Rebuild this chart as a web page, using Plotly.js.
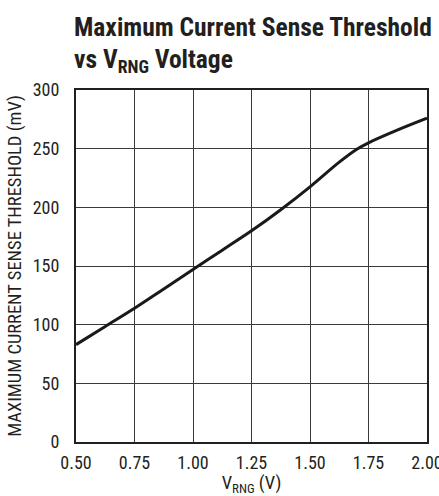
<!DOCTYPE html>
<html>
<head>
<meta charset="utf-8">
<script src="https://cdn.plot.ly/plotly-3.0.1.min.js"></script>
<style>html,body{margin:0;padding:0;background:#fff;}#chart{width:439px;height:496px;}</style>
</head>
<body>
<div id="chart"></div>
<script>
const vrng = [0.50, 0.625, 0.75, 0.875, 1.00, 1.125, 1.25, 1.375, 1.50, 1.625, 1.70, 1.75, 1.875, 2.00];
const threshold = [83, 98.5, 114, 130.5, 147, 163.5, 180, 198, 217.5, 238.5, 249.5, 255, 266, 276];
const xTicks = [0.5, 0.75, 1.0, 1.25, 1.5, 1.75, 2.0];
const xTickText = ["0.50", "0.75", "1.00", "1.25", "1.50", "1.75", "2.00"];
const yTicks = [0, 50, 100, 150, 200, 250, 300];
const titleLines = ["Maximum Current Sense Threshold", "vs V<sub>RNG</sub> Voltage"];

const font = "'Roboto Condensed', 'Liberation Sans Narrow', 'Liberation Sans', Arial, sans-serif";
const ink = '#231f20';

Plotly.newPlot('chart', [{
  x: vrng, y: threshold, type: 'scatter', mode: 'lines',
  line: {color: '#1a1a1a', width: 3, shape: 'spline', smoothing: 1},
  hoverinfo: 'skip'
}], {
  width: 439, height: 496,
  margin: {l: 76, r: 12, t: 90, b: 54},
  paper_bgcolor: '#fff', plot_bgcolor: '#fff',
  showlegend: false,
  annotations: [
    {text: '<b>' + titleLines[0] + '</b>', xref: 'paper', yref: 'paper', x: -0.012, y: 1.18,
     xanchor: 'left', yanchor: 'middle', showarrow: false, font: {family: font, size: 25.5, color: ink}},
    {text: '<b>' + titleLines[1] + '</b>', xref: 'paper', yref: 'paper', x: -0.012, y: 1.085,
     xanchor: 'left', yanchor: 'middle', showarrow: false, font: {family: font, size: 25.5, color: ink}}
  ],
  xaxis: {
    range: [0.5, 2.0], tickvals: xTicks, ticktext: xTickText,
    showgrid: true, gridcolor: '#3a3a3a', gridwidth: 1,
    showline: true, linecolor: ink, linewidth: 2, mirror: true,
    ticks: '', zeroline: false, fixedrange: true,
    ticklabeloverflow: 'allow', ticklabelstandoff: 3,
    tickfont: {family: font, size: 18, color: ink},
    title: {text: 'V<sub>RNG</sub> (V)', font: {family: font, size: 18.5, color: ink}, standoff: 6}
  },
  yaxis: {
    range: [0, 300], tickvals: yTicks,
    showgrid: true, gridcolor: '#3a3a3a', gridwidth: 1,
    showline: true, linecolor: ink, linewidth: 2, mirror: true,
    ticks: '', zeroline: false, fixedrange: true,
    ticklabelstandoff: 11,
    tickfont: {family: font, size: 18, color: ink},
    title: {text: 'MAXIMUM CURRENT SENSE THRESHOLD (mV)', font: {family: font, size: 18.5, color: ink}, standoff: 6}
  }
}, {staticPlot: true, displayModeBar: false});
</script>
</body>
</html>
